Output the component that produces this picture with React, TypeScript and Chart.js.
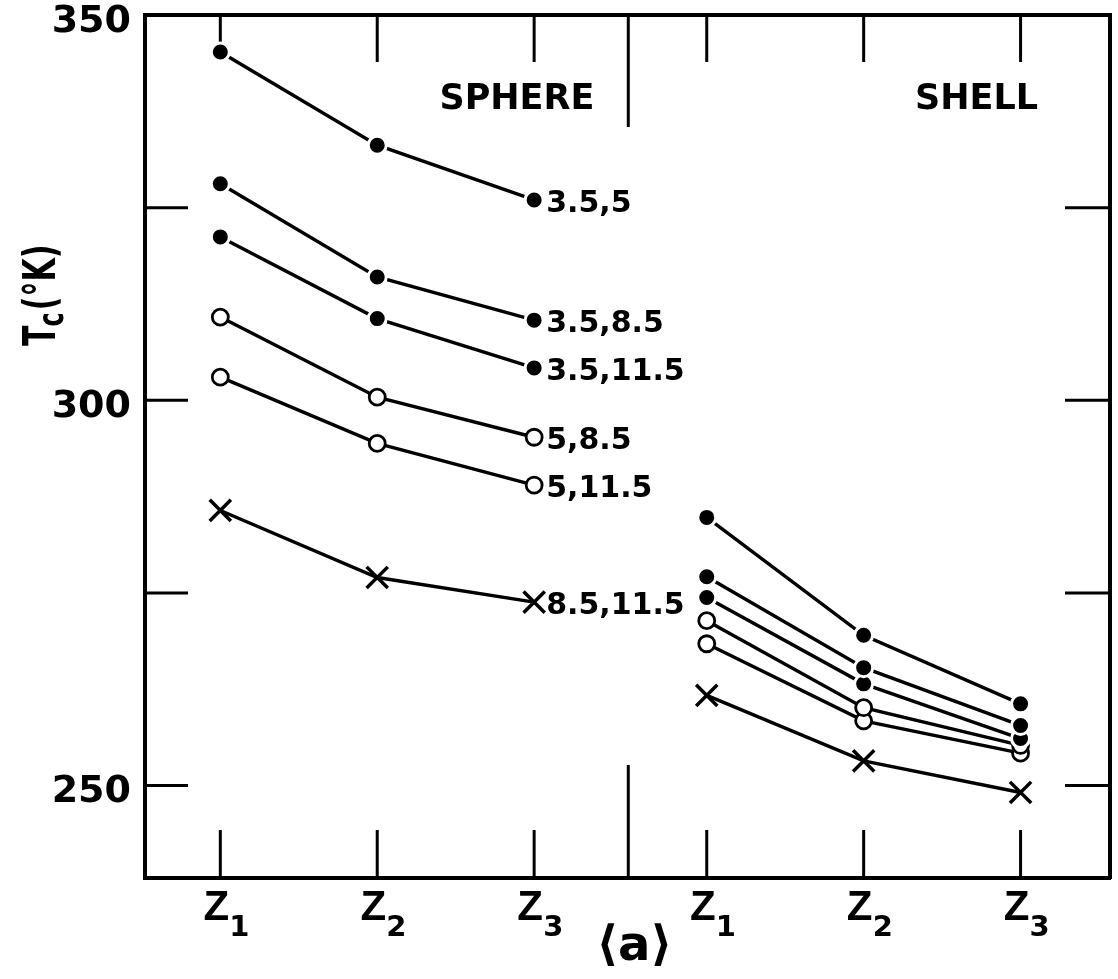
import React, { useEffect, useRef } from "react";
import { Chart, registerables } from "chart.js";

Chart.register(...registerables);

// ---- data ----
const zSubscripts = ["1", "2", "3"];
const spherePositions = [1, 2, 3];
const shellPositions = [4.1, 5.1, 6.1];
const dividerPosition = 3.6;
const seriesNames = ["3.5,5", "3.5,8.5", "3.5,11.5", "5,8.5", "5,11.5", "8.5,11.5"];
const seriesMarkers = ["filled", "filled", "filled", "open", "open", "cross"];

const sphere_3_5__5 = [345.2, 333.1, 326.0];
const sphere_3_5__8_5 = [328.1, 316.0, 310.4];
const sphere_3_5__11_5 = [321.2, 310.6, 304.2];
const sphere_5__8_5 = [310.8, 300.4, 295.2];
const sphere_5__11_5 = [303.0, 294.4, 289.0];
const sphere_8_5__11_5 = [285.7, 277.0, 273.8];

const shell_3_5__5 = [284.8, 269.5, 260.6];
const shell_3_5__8_5 = [277.1, 265.3, 257.8];
const shell_3_5__11_5 = [274.4, 263.2, 256.1];
const shell_5__8_5 = [271.4, 260.1, 255.2];
const shell_5__11_5 = [268.4, 258.4, 254.2];
const shell_8_5__11_5 = [261.7, 253.2, 249.1];

const sphereValues = [sphere_3_5__5, sphere_3_5__8_5, sphere_3_5__11_5, sphere_5__8_5, sphere_5__11_5, sphere_8_5__11_5];
const shellValues = [shell_3_5__5, shell_3_5__8_5, shell_3_5__11_5, shell_5__8_5, shell_5__11_5, shell_8_5__11_5];

const yLabelTicks = [250, 300, 350];
const yMarkTicks = [250, 275, 300, 325];
const yMin = 238;
const yMax = 350;
const xMin = 0.52;
const xMax = 6.67;

const panelTitles = ["SPHERE", "SHELL"];
const panelTitlePos = [2.89, 5.82];
const panelTitleY = 339;
const figureTag = "⟨a⟩";

function markerStyle(kind: string) {
  if (kind === "filled") {
    return { pointStyle: "circle", pointRadius: 9, pointBackgroundColor: "#000", pointBorderColor: "#fff", pointBorderWidth: 3 };
  }
  if (kind === "open") {
    return { pointStyle: "circle", pointRadius: 8, pointBackgroundColor: "#fff", pointBorderColor: "#000", pointBorderWidth: 2.8 };
  }
  return { pointStyle: "crossRot", pointRadius: 15, pointBackgroundColor: "#000", pointBorderColor: "#000", pointBorderWidth: 3.5 };
}

const decorPlugin = {
  id: "decor",
  beforeDatasetsDraw(chart: any) {
    const { ctx, chartArea: a, scales } = chart;
    const x = scales.x;
    const y = scales.y;
    const line = (x1: number, y1: number, x2: number, y2: number) => {
      ctx.beginPath();
      ctx.moveTo(x1, y1);
      ctx.lineTo(x2, y2);
      ctx.stroke();
    };
    ctx.save();
    ctx.strokeStyle = "#000";
    ctx.lineWidth = 3;
    yMarkTicks.forEach((v) => {
      const py = y.getPixelForValue(v);
      line(a.left, py, a.left + 43, py);
      line(a.right - 45, py, a.right, py);
    });
    [...spherePositions, ...shellPositions].forEach((v) => {
      const px = x.getPixelForValue(v);
      line(px, a.top, px, a.top + 47);
      line(px, a.bottom - 48, px, a.bottom);
    });
    const dx = x.getPixelForValue(dividerPosition);
    line(dx, a.top, dx, a.top + 112);
    line(dx, a.bottom - 113, dx, a.bottom);
    ctx.restore();
  },
  afterDraw(chart: any) {
    const { ctx, chartArea: a, scales } = chart;
    const x = scales.x;
    const y = scales.y;
    ctx.save();
    ctx.fillStyle = "#000";

    // series labels next to sphere Z3 points
    ctx.font = 'bold 30px "DejaVu Sans"';
    ctx.textAlign = "left";
    ctx.textBaseline = "middle";
    seriesNames.forEach((name, i) => {
      const px = x.getPixelForValue(spherePositions[2]);
      const py = y.getPixelForValue(sphereValues[i][2]);
      ctx.fillText(name, px + 12, py + 4);
    });

    // panel titles
    ctx.font = 'bold 35px "DejaVu Sans"';
    ctx.textAlign = "center";
    panelTitles.forEach((t, i) => {
      ctx.fillText(t, x.getPixelForValue(panelTitlePos[i]), y.getPixelForValue(panelTitleY));
    });

    // x labels Z1 Z2 Z3
    ctx.textBaseline = "alphabetic";
    [...spherePositions, ...shellPositions].forEach((v, i) => {
      const px = x.getPixelForValue(v);
      ctx.font = 'bold 42px "Liberation Sans"';
      ctx.textAlign = "center";
      ctx.fillText("Z", px - 4, a.bottom + 42);
      ctx.font = 'bold 29px "DejaVu Sans"';
      ctx.textAlign = "left";
      ctx.fillText(zSubscripts[i % 3], px + 9, a.bottom + 58);
    });

    // figure tag
    ctx.font = 'bold 48px "DejaVu Sans"';
    ctx.textAlign = "center";
    ctx.textBaseline = "middle";
    ctx.fillText(figureTag, x.getPixelForValue(dividerPosition) + 6, a.bottom + 70);

    // y axis title T_c(°K)
    ctx.translate(55, 346);
    ctx.rotate(-Math.PI / 2);
    ctx.scale(1, 1.5);
    ctx.textAlign = "left";
    ctx.textBaseline = "alphabetic";
    ctx.font = 'bold 30px "DejaVu Sans"';
    ctx.fillText("T", 0, 0);
    let w = ctx.measureText("T").width;
    ctx.font = 'bold 24px "DejaVu Sans"';
    ctx.fillText("c", w - 1, 5);
    w += ctx.measureText("c").width + 1;
    ctx.font = 'bold 30px "DejaVu Sans"';
    ctx.fillText("(°K)", w, 0);
    ctx.restore();
  },
};

export default function App() {
  const ref = useRef<HTMLCanvasElement | null>(null);
  useEffect(() => {
    if (!ref.current) return;
    const datasets = seriesNames.map((name, i) => ({
      label: name,
      data: [
        ...spherePositions.map((p, j) => ({ x: p, y: sphereValues[i][j] })),
        { x: dividerPosition, y: null },
        ...shellPositions.map((p, j) => ({ x: p, y: shellValues[i][j] })),
      ],
      borderColor: "#000",
      borderWidth: 3.4,
      spanGaps: false,
      fill: false,
      tension: 0,
      ...markerStyle(seriesMarkers[i]),
    }));
    const chart = new Chart(ref.current, {
      type: "line",
      data: { datasets: datasets as any },
      plugins: [decorPlugin],
      options: {
        responsive: false,
        maintainAspectRatio: false,
        animation: false,
        layout: { autoPadding: false, padding: { top: 15, right: 8, left: 0, bottom: 0 } },
        plugins: { legend: { display: false }, tooltip: { enabled: false } },
        scales: {
          x: {
            type: "linear",
            position: "bottom",
            min: xMin,
            max: xMax,
            grid: { display: false, drawTicks: false },
            border: { display: true, width: 4, color: "#000" },
            ticks: { display: false },
            afterFit: (s: any) => {
              s.height = 101;
              s.paddingLeft = 0;
              s.paddingRight = 0;
            },
          },
          x2: {
            type: "linear",
            position: "top",
            min: xMin,
            max: xMax,
            grid: { display: false, drawTicks: false },
            border: { display: true, width: 4, color: "#000" },
            ticks: { display: false },
            afterFit: (s: any) => {
              s.height = 0;
              s.paddingLeft = 0;
              s.paddingRight = 0;
            },
          },
          y: {
            type: "linear",
            position: "left",
            min: yMin,
            max: yMax,
            grid: { display: false, drawTicks: false },
            border: { display: true, width: 4, color: "#000" },
            afterBuildTicks: (s: any) => {
              s.ticks = yLabelTicks.map((v) => ({ value: v }));
            },
            ticks: {
              color: "#000",
              font: { family: '"DejaVu Sans"', weight: "bold", size: 38 },
              padding: 14,
              labelOffset: 7,
            },
            afterFit: (s: any) => {
              s.width = 145;
              s.paddingTop = 0;
              s.paddingBottom = 0;
            },
          },
          y2: {
            type: "linear",
            position: "right",
            min: yMin,
            max: yMax,
            grid: { display: false, drawTicks: false },
            border: { display: true, width: 4, color: "#000" },
            ticks: { display: false },
            afterFit: (s: any) => {
              s.width = 0;
              s.paddingTop = 0;
              s.paddingBottom = 0;
            },
          },
        },
      } as any,
    });
    return () => chart.destroy();
  }, []);
  return (
    <div style={{ position: "absolute", left: 0, top: 0, width: 1118, height: 979, background: "#fff" }}>
      <canvas ref={ref} width={1118} height={979} style={{ display: "block" }} />
    </div>
  );
}
